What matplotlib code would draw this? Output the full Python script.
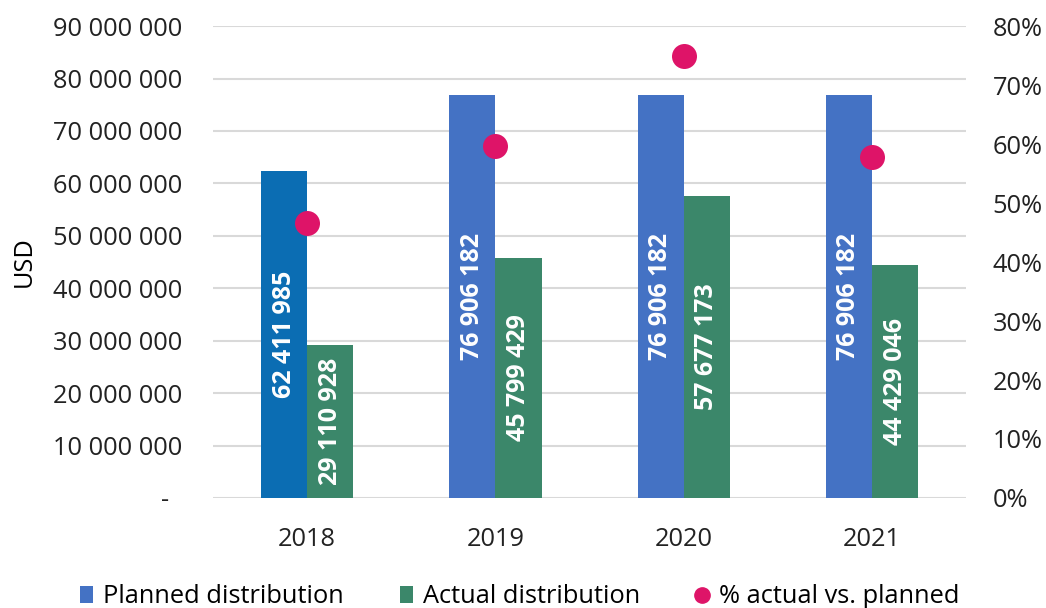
import numpy as np
import matplotlib.pyplot as plt
from matplotlib.ticker import FuncFormatter, MultipleLocator
from matplotlib.lines import Line2D
from matplotlib.patches import Patch

plt.rcParams.update({
    "font.family": ["Open Sans", "DejaVu Sans"],
    "font.size": 18.3,
})

years = ["2018", "2019", "2020", "2021"]
planned = [62411985, 76906182, 76906182, 76906182]
actual = [29110928, 45799429, 57677173, 44429046]
pct_actual = [46.6, 59.6, 75.0, 57.8]

blue = "#4472C4"
blue_2018 = "#0B6DB3"
green = "#3B876A"
magenta = "#DE1468"
grid_c = "#D9D9D9"

fig = plt.figure(figsize=(10.46, 6.08), dpi=100)
ax = fig.add_axes([0.2036, 0.181, 0.72, 0.776])
ax2 = ax.twinx()

x = np.arange(len(years))
w = 0.245
planned_colors = [blue_2018] + [blue] * (len(years) - 1)
b1 = ax.bar(x - w / 2, planned, w, color=planned_colors, zorder=2)
b2 = ax.bar(x + w / 2, actual, w, color=green, zorder=2)

for bars, vals in [(b1, planned), (b2, actual)]:
    for bar, v in zip(bars, vals):
        ax.text(bar.get_x() + bar.get_width() / 2, v / 2, f"{v:,}".replace(",", " "),
                rotation=90, ha="center", va="center", color="white",
                fontweight="bold", fontsize=18, zorder=3)

ax2.scatter(x, pct_actual, s=324, color=magenta, zorder=4, linewidths=0)


def usd_fmt(v, pos):
    # accounting style: zero shown as a dash, indented
    if v == 0:
        return "-  "
    return f"{v:,.0f}".replace(",", " ")


ax.set_xlim(-0.5, len(years) - 0.5)
ax.set_ylim(0, 90_000_000)
ax.yaxis.set_major_locator(MultipleLocator(10_000_000))
ax.yaxis.set_major_formatter(FuncFormatter(usd_fmt))
ax2.set_ylim(0, 80)
ax2.yaxis.set_major_locator(MultipleLocator(10))
ax2.yaxis.set_major_formatter(FuncFormatter(lambda v, p: f"{v:.0f}%"))

ax.grid(axis="y", color=grid_c, linewidth=1.5, zorder=0)
ax.set_axisbelow(True)
for a in (ax, ax2):
    for s in a.spines.values():
        s.set_visible(False)
    a.tick_params(length=0, colors="#222222")
ax.tick_params(axis="y", pad=22)
ax2.tick_params(axis="y", pad=19)
ax.tick_params(axis="x", pad=21)
ax.set_xticks(x)
ax.set_xticklabels(years)
ax.set_ylabel("USD", labelpad=12)

handles = [
    Patch(facecolor=blue, label="Planned distribution"),
    Patch(facecolor=green, label="Actual distribution"),
    Line2D([], [], marker="o", linestyle="none", color=magenta, markersize=11,
           label="% actual vs. planned"),
]
fig.legend(handles=handles, loc="lower center", bbox_to_anchor=(0.497, -0.04), ncol=3,
           frameon=False, handlelength=0.5, handleheight=0.6, handletextpad=0.4,
           columnspacing=2.2, fontsize=18.3)

fig.savefig("out.png", dpi=100)
